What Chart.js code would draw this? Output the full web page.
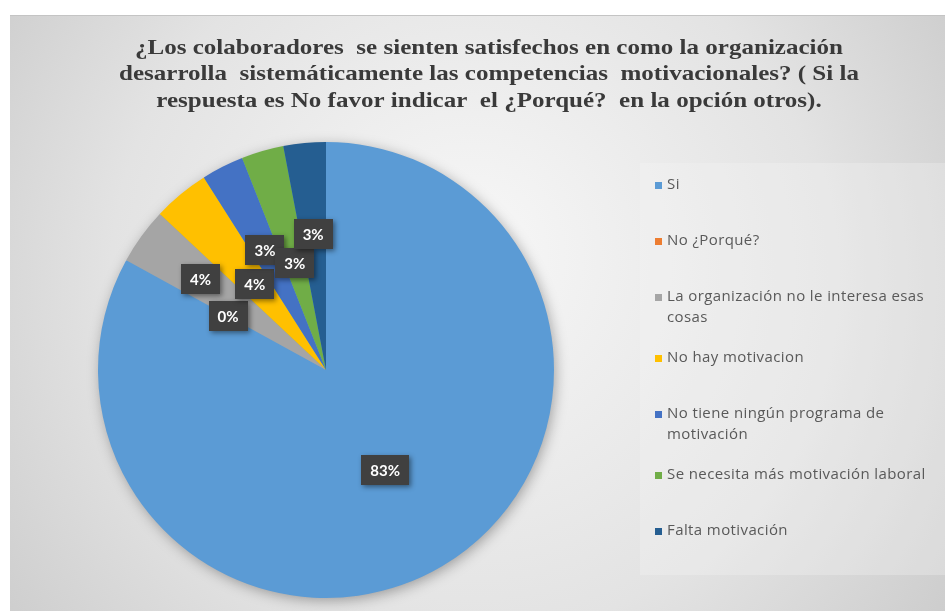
<!DOCTYPE html>
<html>
<head>
<meta charset="utf-8">
<script src="https://cdn.jsdelivr.net/npm/chart.js@4.4.1/dist/chart.umd.min.js"></script>
<style>
  html, body { margin: 0; padding: 0; background: #fff; }
  #wrap { width: 945px; height: 611px; }
</style>
</head>
<body>
<div id="wrap"><canvas id="pie"></canvas></div>
<script>
// survey answers and their share of responses (%)
var categories = [
  'Si',
  'No ¿Porqué?',
  'La organización no le interesa esas cosas',
  'No hay motivacion',
  'No tiene ningún programa de motivación',
  'Se necesita más motivación laboral',
  'Falta motivación'
];
var percentValues = [83, 0, 4, 4, 3, 3, 3];
var sliceColors = ['#5b9bd5', '#ed7d31', '#a5a5a5', '#ffc000', '#4472c4', '#70ad47', '#255e91'];

var titleLines = [
  '¿Los colaboradores  se sienten satisfechos en como la organización',
  'desarrolla  sistemáticamente las competencias  motivacionales? ( Si la',
  'respuesta es No favor indicar  el ¿Porqué?  en la opción otros).'
];

// how far out (fraction of radius) each value box sits along its slice
var labelRadius = [0.51, 0.49, 0.68, 0.49, 0.59, 0.49, 0.60];

// frame, gradient and the soft shadow under the pie
var backdrop = {
  id: 'backdrop',
  beforeDraw: function(chart) {
    var ctx = chart.ctx;
    ctx.save();
    ctx.fillStyle = '#ffffff';
    ctx.fillRect(0, 0, chart.width, chart.height);
    var g = ctx.createRadialGradient(470, 250, 40, 470, 300, 620);
    g.addColorStop(0, '#f5f5f5');
    g.addColorStop(0.55, '#e3e3e3');
    g.addColorStop(1, '#c8c8c8');
    ctx.fillStyle = g;
    ctx.fillRect(10, 15, chart.width - 10, chart.height - 15);
    ctx.fillStyle = '#c4c4c4';
    ctx.fillRect(10, 15, chart.width - 10, 1);
    // legend panel
    ctx.fillStyle = 'rgba(245,245,245,0.3)';
    ctx.fillRect(640, 163, chart.width - 640, 412);
    ctx.restore();
  },
  beforeDatasetsDraw: function(chart) {
    var arc = chart.getDatasetMeta(0).data[0];
    if (!arc) return;
    var p = arc.getProps(['x', 'y', 'outerRadius'], true);
    var ctx = chart.ctx;
    ctx.save();
    ctx.shadowColor = 'rgba(0,0,0,0.35)';
    ctx.shadowBlur = 14;
    ctx.shadowOffsetX = 2;
    ctx.shadowOffsetY = 3;
    ctx.fillStyle = sliceColors[0];
    ctx.beginPath();
    ctx.arc(p.x, p.y, p.outerRadius - 1, 0, Math.PI * 2);
    ctx.fill();
    ctx.restore();
  }
};

// the three-line heading, stretched a little to the width of the frame's title box
var heading = {
  id: 'heading',
  afterDraw: function(chart) {
    var ctx = chart.ctx;
    ctx.save();
    ctx.font = 'bold 22px "Liberation Serif", "Times New Roman", serif';
    ctx.fillStyle = '#3a3a3a';
    ctx.textAlign = 'center';
    ctx.textBaseline = 'middle';
    var sx = 708 / ctx.measureText(titleLines[0]).width;
    ctx.translate(489, 0);
    ctx.scale(sx, 1);
    titleLines.forEach(function(line, i) {
      ctx.fillText(line, 0, 48 + i * 26.5);
    });
    ctx.restore();
  }
};

// dark boxes with the percentage of each slice
var valueBoxes = {
  id: 'valueBoxes',
  afterDatasetsDraw: function(chart) {
    var ctx = chart.ctx;
    var meta = chart.getDatasetMeta(0);
    ctx.save();
    ctx.font = 'bold 15px Lato, "Open Sans", sans-serif';
    ctx.textAlign = 'center';
    ctx.textBaseline = 'middle';
    meta.data.forEach(function(arc, i) {
      var p = arc.getProps(['x', 'y', 'startAngle', 'endAngle', 'outerRadius'], true);
      var mid = (p.startAngle + p.endAngle) / 2;
      var r = p.outerRadius * labelRadius[i];
      var cx = p.x + Math.cos(mid) * r;
      var cy = p.y + Math.sin(mid) * r;
      var text = percentValues[i] + '%';
      var w = ctx.measureText(text).width + 18;
      var h = 30;
      ctx.save();
      ctx.shadowColor = 'rgba(0,0,0,0.45)';
      ctx.shadowBlur = 5;
      ctx.shadowOffsetX = 2;
      ctx.shadowOffsetY = 2;
      ctx.fillStyle = '#404040';
      ctx.fillRect(Math.round(cx - w / 2), Math.round(cy - h / 2), Math.round(w), h);
      ctx.restore();
      ctx.fillStyle = '#ffffff';
      ctx.fillText(text, cx, cy + 1);
    });
    ctx.restore();
  }
};

// legend at the right, long names wrapped onto a second line
var sideLegend = {
  id: 'sideLegend',
  afterDraw: function(chart) {
    var ctx = chart.ctx;
    var x = 655, maxW = 275, y = 185;
    ctx.save();
    ctx.font = '15px "Open Sans", Lato, sans-serif';
    ctx.letterSpacing = '0.4px';
    ctx.textBaseline = 'middle';
    chart.data.labels.forEach(function(label, i) {
      var words = label.split(' ');
      var lines = [], cur = '';
      words.forEach(function(wd) {
        var test = cur ? cur + ' ' + wd : wd;
        if (cur && ctx.measureText(test).width > maxW) {
          lines.push(cur);
          cur = wd;
        } else {
          cur = test;
        }
      });
      lines.push(cur);
      ctx.fillStyle = sliceColors[i];
      ctx.fillRect(x, y - 3, 7, 7);
      ctx.fillStyle = '#595959';
      lines.forEach(function(ln, k) {
        ctx.fillText(ln, x + 12, y + k * 21);
      });
      y += lines.length > 1 ? 61 : 56;
    });
    ctx.restore();
  }
};

new Chart(document.getElementById('pie'), {
  type: 'pie',
  data: {
    labels: categories,
    datasets: [{
      data: percentValues,
      backgroundColor: sliceColors,
      borderWidth: 0
    }]
  },
  options: {
    responsive: true,
    maintainAspectRatio: false,
    animation: false,
    layout: { padding: { left: 98, right: 391, top: 142, bottom: 13 } },
    plugins: {
      legend: { display: false },
      tooltip: { enabled: false }
    }
  },
  plugins: [backdrop, heading, valueBoxes, sideLegend]
});
</script>
</body>
</html>
